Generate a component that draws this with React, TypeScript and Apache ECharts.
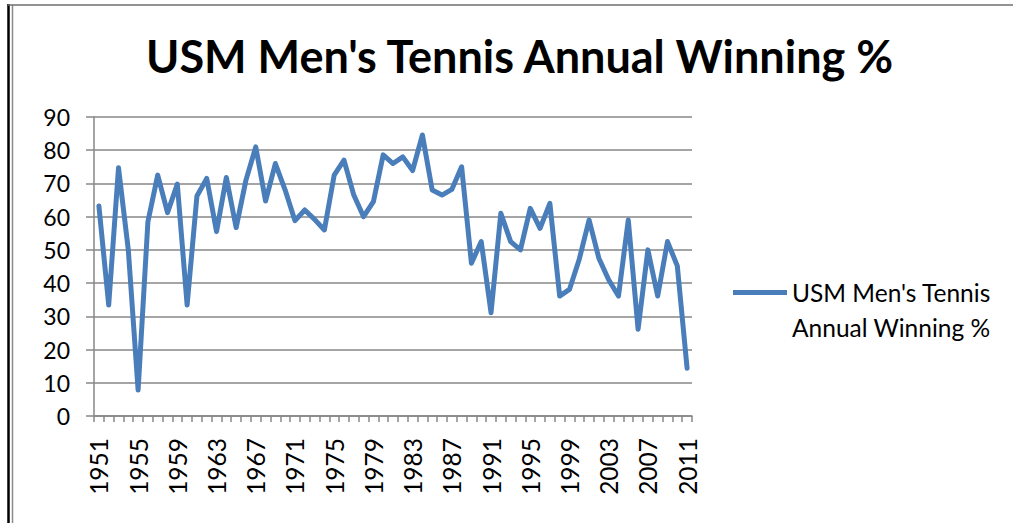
import React, { useEffect, useRef } from "react";
import * as echarts from "echarts";

const years: string[] = [];
for (let y = 1951; y <= 2011; y++) years.push(String(y));

const winningPct: number[] = [
  63.2, 33.4, 74.7, 50, 7.8, 58.5, 72.5, 61.2, 69.8, 33.4,
  66.2, 71.5, 55.5, 71.8, 56.7, 71, 81, 64.7, 76, 68,
  58.8, 62, 59.2, 56, 72.5, 77, 66.5, 60, 64.5, 78.6,
  76, 78, 73.9, 84.6, 68, 66.5, 68.2, 75, 46, 52.5,
  31.1, 61, 52.5, 50, 62.5, 56.5, 64, 36.1, 38.1, 47.2,
  59, 47.5, 41, 36.1, 59, 26.1, 50, 36.1, 52.5, 45.2,
  14.4,
];

const seriesName = "USM Men's Tennis Annual Winning %";
const titleText = "USM Men's Tennis Annual Winning %";
const legendLines = ["USM Men's Tennis", "Annual Winning %"];

const FONT = "Lato, 'Open Sans', sans-serif";

export default function App() {
  const ref = useRef<HTMLDivElement>(null);
  useEffect(() => {
    if (!ref.current) return;
    const chart = echarts.init(ref.current, undefined, { renderer: "svg" });
    chart.setOption({
      animation: false,
      backgroundColor: "#ffffff",
      title: {
        text: titleText,
        left: 146,
        top: 33,
        padding: 0,
        textStyle: { fontFamily: FONT, fontWeight: "bold", fontSize: 45, color: "#000" },
      },
      legend: {
        left: 733,
        top: 245,
        padding: 0,
        itemWidth: 54,
        itemHeight: 5,
        itemGap: 10,
        icon: "rect",
        formatter: () => "{e|}\n{a|" + legendLines[0] + "}\n{a|" + legendLines[1] + "}",
        textStyle: {
          fontFamily: FONT,
          fontSize: 24.5,
          color: "#000",
          rich: {
            e: { lineHeight: 35, fontSize: 24.5, fontFamily: FONT },
            a: { lineHeight: 35, fontSize: 24.5, fontFamily: FONT, color: "#000" },
          },
        },
      },
      grid: { left: 94, right: 321, top: 117, bottom: 107, containLabel: false },
      xAxis: {
        type: "category",
        data: years,
        boundaryGap: true,
        axisLine: { lineStyle: { color: "#878787", width: 1.5 } },
        axisTick: { show: true, interval: 0, length: 6, lineStyle: { color: "#878787", width: 1.5 } },
        axisLabel: {
          interval: 3,
          rotate: 90,
          margin: 22,
          fontFamily: FONT,
          fontSize: 24.5,
          color: "#000",
        },
        splitLine: { show: false },
      },
      yAxis: {
        type: "value",
        min: 0,
        max: 90,
        interval: 10,
        axisLine: { show: true, lineStyle: { color: "#878787", width: 1.5 } },
        axisTick: { show: true, length: 8, lineStyle: { color: "#878787", width: 1.5 } },
        axisLabel: { margin: 24, fontFamily: FONT, fontSize: 23, color: "#000" },
        splitLine: { show: true, lineStyle: { color: "#878787", width: 1.5 } },
      },
      series: [
        {
          name: seriesName,
          type: "line",
          data: winningPct,
          symbol: "none",
          lineStyle: { color: "#4a7ebb", width: 5, join: "round", cap: "round" },
          itemStyle: { color: "#4a7ebb" },
        },
      ],
      graphic: [
        { type: "line", shape: { x1: 8.5, y1: 4, x2: 8.5, y2: 523 }, style: { stroke: "#000", lineWidth: 2.5 } },
        { type: "line", shape: { x1: 12.5, y1: 5, x2: 12.5, y2: 523 }, style: { stroke: "#8a8a8a", lineWidth: 1.5 } },
        { type: "line", shape: { x1: 8, y1: 5, x2: 1013, y2: 5 }, style: { stroke: "#6f6f6f", lineWidth: 1.5 } },
      ],
    });
    return () => chart.dispose();
  }, []);
  return (
    <div
      ref={ref}
      style={{ position: "fixed", left: 0, top: 0, width: 1013, height: 523 }}
    />
  );
}
